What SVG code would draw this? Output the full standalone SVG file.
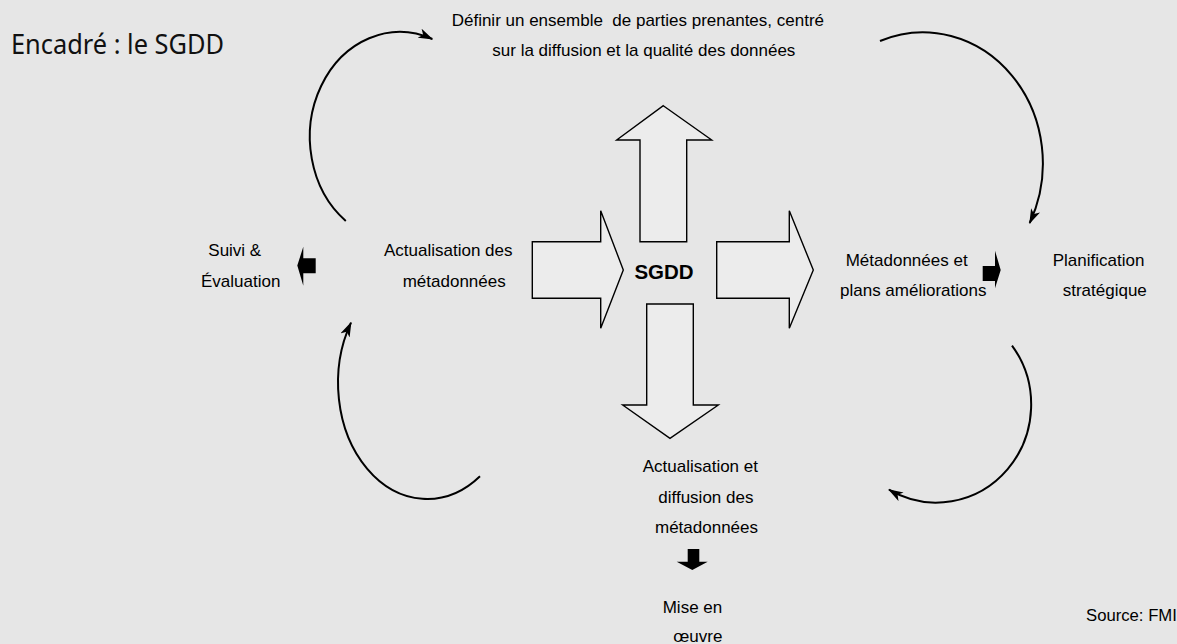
<svg xmlns="http://www.w3.org/2000/svg" width="1177" height="644" viewBox="0 0 1177 644">
<defs>
<style>
.t{font-family:"Liberation Sans",Arial,sans-serif;font-size:17px;fill:#000}
.big{fill:#ececec;stroke:#000;stroke-width:1.4;stroke-linejoin:miter}
.arc{fill:none;stroke:#000;stroke-width:2}
.blk{fill:#000;stroke:none}
</style>
<marker id="ah" viewBox="0 0 15 10" refX="14" refY="5" markerWidth="15" markerHeight="10" markerUnits="userSpaceOnUse" orient="auto">
<path d="M0,0 L15,5 L0,10 L4,5 z" fill="#000"/>
</marker>
</defs>
<rect width="1177" height="644" fill="#e6e6e6"/>
<text x="11" y="54" style="font-family:'Noto Sans','Open Sans',sans-serif;font-size:27px;fill:#111" textLength="213" lengthAdjust="spacingAndGlyphs">Encadré : le SGDD</text>

<g id="sgdd">
<path class="big" d="M663.3,105.7 L711.7,140 L686.7,140 L686.7,241.7 L640,241.7 L640,140 L616.7,140 Z"/>
<path class="big" d="M532.3,241.7 L600.7,241.7 L600.7,210.7 L623.3,270 L600.7,328.3 L600.7,298.3 L532.3,298.3 Z"/>
<path class="big" d="M716.7,241.7 L789.3,241.7 L789.3,210.7 L813.3,270 L789.3,328.3 L789.3,298.3 L716.7,298.3 Z"/>
<path class="big" d="M646.7,304 L693.3,304 L693.3,405 L718.3,405 L670,438.3 L622.7,405 L646.7,405 Z"/>
<text x="664" y="279" text-anchor="middle" class="t" style="font-weight:bold;font-size:20.5px">SGDD</text>
</g>

<g id="definir">
<text class="t" x="451.7" y="26" style="white-space:pre">Définir un ensemble  de parties prenantes, centré</text>
<text class="t" x="492.3" y="55.7">sur la diffusion et la qualité des données</text>
</g>
<g id="suivi">
<text class="t" x="208.3" y="256">Suivi &amp;</text>
<text class="t" x="201" y="286.7">Évaluation</text>
</g>
<g id="actualisation">
<text class="t" x="384" y="256">Actualisation des</text>
<text class="t" x="402.7" y="286.7">métadonnées</text>
</g>
<g id="metadonnees">
<text class="t" x="845.7" y="265.7">Métadonnées et</text>
<text class="t" x="840" y="296">plans améliorations</text>
</g>
<g id="planification">
<text class="t" x="1052.7" y="265.7">Planification</text>
<text class="t" x="1062.7" y="296">stratégique</text>
</g>
<g id="diffusion">
<text class="t" x="642.7" y="471.7">Actualisation et</text>
<text class="t" x="658.3" y="503.3">diffusion des</text>
<text class="t" x="655" y="533.3">métadonnées</text>
</g>
<g id="mise">
<text class="t" x="662.7" y="613.3">Mise en</text>
<text class="t" x="673.3" y="641.5">œuvre</text>
</g>
<g id="source">
<text class="t" x="1086" y="620.7" style="font-size:16.7px">Source: FMI</text>
</g>

<g id="connectors">
<path class="arc" d="M345.8,220.9 A90,105 0 0 1 432.3,39" marker-end="url(#ah)"/>
<path class="arc" d="M880,41 A120,131 0 0 1 1029.7,223" marker-end="url(#ah)"/>
<path class="arc" d="M1012,345.6 A95,98 0 0 1 889,489.7" marker-end="url(#ah)"/>
<path class="arc" d="M480,476.2 A89,116 0 0 1 351,322.7" marker-end="url(#ah)"/>
<path class="blk" d="M315.7,258.3 L303.3,258.3 L303.3,246.7 L297.3,265.5 L303.3,285.7 L303.3,273.3 L315.7,273.3 Z"/>
<path class="blk" d="M982.7,266 L995,266 L995,250.7 L1000.7,270 L995,288.3 L995,281 L982.7,281 Z"/>
<path class="blk" d="M687.7,549 L699.3,549 L699.3,561.7 L707.7,561.7 L692.3,570 L676.7,561.7 L687.7,561.7 Z"/>
</g>
</svg>
